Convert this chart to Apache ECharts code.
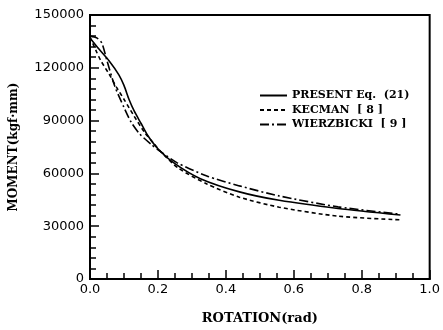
<!DOCTYPE html>
<html>
<head>
<meta charset="utf-8">
<script src="https://cdn.jsdelivr.net/npm/echarts@6/dist/echarts.min.js"></script>
<style>
  html, body { margin: 0; padding: 0; background: #fff; }
  #chart { width: 443px; height: 330px; }
</style>
</head>
<body>
<div id="chart"></div>
<script>
// values: rotation (rad) and moment (kgf·mm)
var presentRot = [0, 0.027, 0.056, 0.085, 0.1, 0.115, 0.13, 0.15, 0.17, 0.2, 0.25, 0.325, 0.44, 0.557, 0.73, 0.914];
var presentMom = [137000, 130500, 124000, 116000, 110000, 102000, 95500, 88500, 81500, 74000, 65500, 57000, 49500, 44700, 40100, 36400];

var kecmanRot = [0, 0.017, 0.032, 0.056, 0.078, 0.102, 0.13, 0.16, 0.19, 0.21, 0.26, 0.344, 0.44, 0.557, 0.73, 0.914];
var kecmanMom = [137500, 130000, 124000, 116500, 109000, 101500, 92500, 83500, 76500, 72000, 63000, 54000, 46500, 40800, 35700, 33600];

var wierzRot = [0, 0.02, 0.035, 0.05, 0.073, 0.1, 0.12, 0.146, 0.18, 0.209, 0.257, 0.344, 0.44, 0.557, 0.73, 0.914];
var wierzMom = [138000, 137000, 134000, 124000, 109500, 97500, 89500, 82500, 76500, 72200, 66000, 58500, 52900, 47200, 41000, 36800];

var seriesNames = ['PRESENT Eq.  (21)', 'KECMAN  [ 8 ]', 'WIERZBICKI  [ 9 ]'];

function pairs(xs, ys) {
    var out = [];
    for (var i = 0; i < xs.length; i++) out.push([xs[i], ys[i]]);
    return out;
}

var serif = 'DejaVu Serif';
var sans = 'DejaVu Sans';

var option = {
    backgroundColor: '#fff',
    animation: false,
    grid: {
        left: 88, right: 11, top: 15, bottom: 44,
        show: true, borderColor: '#000', borderWidth: 2
    },
    legend: {
        orient: 'vertical',
        left: 254,
        top: 85,
        itemWidth: 27,
        itemHeight: 12,
        itemGap: 3.5,
        data: seriesNames,
        itemStyle: { opacity: 0 },
        textStyle: { color: '#000', fontFamily: serif, fontWeight: 'bold', fontSize: 11 }
    },
    xAxis: {
        type: 'value',
        min: 0, max: 1, interval: 0.2,
        name: 'ROTATION(rad)',
        nameLocation: 'middle',
        nameGap: 33,
        nameTextStyle: { color: '#000', fontFamily: serif, fontWeight: 'bold', fontSize: 13 },
        axisLine: { lineStyle: { color: '#000', width: 2 } },
        axisTick: { inside: true, length: 9, lineStyle: { color: '#000', width: 1.5 } },
        minorTick: { show: true, splitNumber: 4, length: 6, lineStyle: { color: '#000', width: 1.5 } },
        splitLine: { show: false },
        axisLabel: {
            color: '#000', fontFamily: sans, fontSize: 13, margin: 4,
            formatter: function (v) { return v.toFixed(1); }
        }
    },
    yAxis: {
        type: 'value',
        min: 0, max: 150000, interval: 30000,
        name: 'MOMENT(kgf·mm)',
        nameLocation: 'middle',
        nameGap: 70,
        nameTextStyle: { color: '#000', fontFamily: serif, fontWeight: 'bold', fontSize: 12 },
        axisLine: { lineStyle: { color: '#000', width: 2 } },
        axisTick: { inside: true, length: 9, lineStyle: { color: '#000', width: 1.5 } },
        minorTick: { show: true, splitNumber: 5, length: 6, lineStyle: { color: '#000', width: 1.5 } },
        splitLine: { show: false },
        axisLabel: {
            color: '#000', fontFamily: sans, fontSize: 13, margin: 6,
            formatter: function (v) { return String(v); }
        }
    },
    series: [
        {
            name: seriesNames[0], type: 'line', smooth: 0.25, symbol: 'none',
            lineStyle: { color: '#000', width: 1.6, type: 'solid' },
            itemStyle: { color: '#000' },
            data: pairs(presentRot, presentMom)
        },
        {
            name: seriesNames[1], type: 'line', smooth: 0.25, symbol: 'none',
            lineStyle: { color: '#000', width: 1.6, type: [4, 3] },
            itemStyle: { color: '#000' },
            data: pairs(kecmanRot, kecmanMom)
        },
        {
            name: seriesNames[2], type: 'line', smooth: 0.25, symbol: 'none',
            lineStyle: { color: '#000', width: 1.6, type: [9, 3, 2, 3] },
            itemStyle: { color: '#000' },
            data: pairs(wierzRot, wierzMom)
        }
    ]
};

var chart = echarts.init(document.getElementById('chart'));
chart.setOption(option);
</script>
</body>
</html>
